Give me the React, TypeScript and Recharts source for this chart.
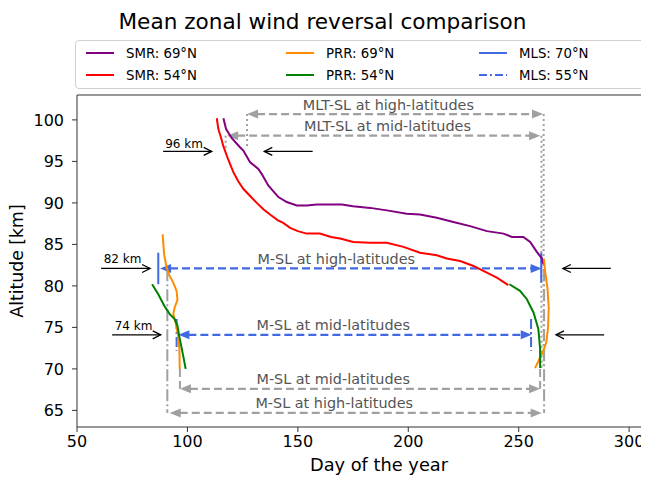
import React from 'react';
import { LineChart, Line, XAxis, YAxis, ReferenceLine, ReferenceDot } from 'recharts';

type Pt = { day: number; alt: number };
const pts = (rows: number[][]): Pt[] => rows.map(([day, alt]) => ({ day, alt }));

// curves: [day of year, altitude km]
const smr69 = pts([
  [116.3, 100.2], [117.5, 98.9], [120.1, 97.8], [123.8, 96.7], [125.3, 96.3], [128.4, 94.9],
  [132.1, 94.1], [133.6, 93.5], [136.6, 92.1], [141.2, 90.7], [145, 90.1], [149.5, 89.7],
  [154, 89.7], [158.6, 89.8], [164.6, 89.8], [170, 89.8], [175, 89.6], [182.7, 89.4],
  [190.3, 89.1], [199.3, 88.7], [205.3, 88.6], [212.9, 88.2], [220.4, 87.7], [228, 87.2],
  [235.6, 86.6], [243.1, 86.3], [246.9, 85.9], [252.1, 85.9], [255.2, 85.3], [258.2, 84.1],
  [260.5, 83.3], [261.2, 82.6],
]);
const smr54 = pts([
  [113.3, 100.2], [114, 98.9], [115.3, 97.8], [116.3, 96.8], [118.5, 95.2], [120.8, 93.7],
  [123, 92.6], [125.3, 91.7], [128.5, 90.8], [131.4, 90], [134.5, 89.2], [137.4, 88.6],
  [141, 87.9], [143.4, 87.6], [146.5, 87], [150, 86.6], [154, 86.3], [160, 86.3],
  [165, 85.9], [169.1, 85.7], [175.1, 85.3], [182.7, 85.2], [190.3, 85.2], [197.8, 84.7],
  [205.3, 84], [212.9, 83.7], [217.4, 83.3], [223.5, 83], [229.5, 82.4], [234, 81.8],
  [240.1, 81], [245.3, 80.1],
]);
const prr69Spring = pts([
  [88.8, 86.2], [89.1, 85], [89.5, 83.7], [90.6, 82.2], [91.8, 81.3], [93.6, 80.4],
  [95.1, 79.4], [95.5, 78.3], [94.2, 77.4], [93.6, 76.6], [94.8, 75.4], [95.9, 73.8],
  [96.4, 72.2], [96.5, 70],
]);
const prr69Autumn = pts([
  [261.4, 83.3], [262, 81.7], [263, 79.8], [263.6, 77.4], [263.3, 75], [262.5, 73.2],
  [261.2, 72.2], [259.4, 71.2], [257.4, 70.1],
]);
const prr54Spring = pts([
  [84, 80.2], [86.8, 79], [89.5, 77.6], [92, 76.6], [94.2, 76], [95.5, 75.2],
  [96.4, 73.8], [97.4, 72.5], [98.5, 71], [99.2, 70],
]);
const prr54Autumn = pts([
  [245.8, 80.2], [250.6, 79.4], [253.7, 78.4], [256.7, 76.8], [258.9, 74.8], [259.7, 72.4],
  [259.7, 70.1],
]);

const xTicks = [50, 100, 150, 200, 250, 300];
const yTicks = [65, 70, 75, 80, 85, 90, 95, 100];

// annotation arrows: [x1, y1, x2, y2] in data units
const greyArrows = [
  [127, 100.7, 261, 100.7],
  [118, 98.1, 259.7, 98.1],
  [96.6, 67.6, 259.7, 67.6],
  [92, 64.7, 260.4, 64.7],
];
const blueArrows = [
  [87.6, 82.1, 260.4, 82.1],
  [95.9, 74.1, 255.9, 74.1],
];
const blackArrows = [
  [89, 96.2, 111, 96.2],
  [156.7, 96.2, 134.8, 96.2],
  [60.9, 82.1, 83.1, 82.1],
  [291.7, 82.1, 270, 82.1],
  [65.9, 74.1, 87.9, 74.1],
  [288.7, 74.1, 266.9, 74.1],
];
const greyDotted = [
  [127, 100.7, 96.8],
  [117.3, 98.1, 96.6],
  [261.3, 100.7, 70],
  [260.3, 98.1, 70],
];
const greyDashDot = [
  [90.9, 82, 64.7],
  [261.5, 82, 64.7],
];
const greyDashed = [
  [96.6, 70, 67.6],
  [259.7, 70, 67.6],
];
const blueBars = [
  [86.8, 84, 80.2],
  [260.2, 84, 80.4],
];
const blueDashDotBars = [
  [95.1, 76, 72.2],
  [255.6, 76, 72.2],
];

const greyLabels: [number, number, string][] = [
  [191, 101.8, 'MLT-SL at high-latitudes'],
  [190.6, 99.3, 'MLT-SL at mid-latitudes'],
  [167.4, 83.3, 'M-SL at high-latitudes'],
  [166, 75.3, 'M-SL at mid-latitudes'],
  [166, 68.8, 'M-SL at mid-latitudes'],
  [166.5, 65.9, 'M-SL at high-latitudes'],
];
const kmLabels: [number, number, string][] = [
  [98.5, 97.1, '96 km'],
  [70.6, 83.2, '82 km'],
  [75.6, 75.2, '74 km'],
];

const legendItems = [
  { name: 'SMR: 69°N', color: '#800080', dash: '', x: 72 },
  { name: 'SMR: 54°N', color: '#ff0000', dash: '', x: 72 },
  { name: 'PRR: 69°N', color: '#ff8c00', dash: '', x: 272 },
  { name: 'PRR: 54°N', color: '#008000', dash: '', x: 272 },
  { name: 'MLS: 70°N', color: '#4169e1', dash: '', x: 465 },
  { name: 'MLS: 55°N', color: '#4169e1', dash: '8 3 2 3', x: 465 },
];

const GREY = '#a0a0a0';
const BLUE = '#4169e1';
const FONT = '"DejaVu Sans", sans-serif';

function arrowShape(kind: 'filled' | 'open', both: boolean) {
  return (p: any) => {
    const { x1, y1, x2, y2, stroke, strokeWidth, strokeDasharray } = p;
    const len = Math.hypot(x2 - x1, y2 - y1) || 1;
    const ux = (x2 - x1) / len;
    const uy = (y2 - y1) / len;
    const L = kind === 'filled' ? 11 : 8;
    const W = kind === 'filled' ? 4.5 : 4;
    const head = (tx: number, ty: number, dx: number, dy: number) => {
      const bx = tx - dx * L;
      const by = ty - dy * L;
      const a = `${bx - dy * W},${by + dx * W}`;
      const b = `${bx + dy * W},${by - dx * W}`;
      return kind === 'filled' ? (
        <polygon points={`${a} ${tx},${ty} ${b}`} fill={stroke} stroke="none" />
      ) : (
        <polyline points={`${a} ${tx},${ty} ${b}`} fill="none" stroke={stroke} strokeWidth={1.3} />
      );
    };
    const sx = both && kind === 'filled' ? x1 + ux * (L - 1) : x1;
    const sy = both && kind === 'filled' ? y1 + uy * (L - 1) : y1;
    const ex = kind === 'filled' ? x2 - ux * (L - 1) : x2;
    const ey = kind === 'filled' ? y2 - uy * (L - 1) : y2;
    return (
      <g>
        <line x1={sx} y1={sy} x2={ex} y2={ey} stroke={stroke} strokeWidth={strokeWidth} strokeDasharray={strokeDasharray} />
        {head(x2, y2, ux, uy)}
        {both && head(x1, y1, -ux, -uy)}
      </g>
    );
  };
}

const textShape = (label: string, size: number, color: string) => (p: any) => (
  <text x={p.cx} y={p.cy} textAnchor="middle" dominantBaseline="central" fontSize={size} fill={color} fontFamily={FONT}>
    {label}
  </text>
);

function vlines(rows: number[][], color: string, dash: string, width: number, prefix: string) {
  return rows.map(([x, ya, yb], i) => (
    <ReferenceLine
      key={prefix + i}
      segment={[{ x, y: ya }, { x, y: yb }]}
      stroke={color}
      strokeWidth={width}
      strokeDasharray={dash}
    />
  ));
}

export default function App() {
  const curve = (data: Pt[], color: string, key: string) => (
    <Line
      key={key}
      data={data}
      dataKey="alt"
      stroke={color}
      strokeWidth={2}
      dot={false}
      isAnimationActive={false}
      type="linear"
    />
  );

  return (
    <div style={{ position: 'relative', width: 641, height: 471, overflow: 'hidden', fontFamily: FONT }}>
      <div style={{ position: 'absolute', left: 0, width: 629, top: 0, textAlign: 'center', fontSize: 21.6, lineHeight: '27px', color: '#000' }}>
        Mean zonal wind reversal comparison
      </div>
      <div
        style={{
          position: 'absolute', left: 67, top: 32, width: 640, height: 47,
          border: '1px solid #d0d0d0', borderRadius: 4, background: '#fff', zIndex: 2,
        }}
      >
        {legendItems.map((it, i) => (
          <div key={it.name} style={{ position: 'absolute', left: it.x - 67 + 5, top: i % 2 === 0 ? 2 : 24, height: 20, display: 'flex', alignItems: 'center' }}>
            <svg width={30} height={6}>
              <line x1={0} y1={3} x2={28} y2={3} stroke={it.color} strokeWidth={2} strokeDasharray={it.dash} />
            </svg>
            <span style={{ marginLeft: 10, fontSize: 13.3, color: '#000' }}>{it.name}</span>
          </div>
        ))}
      </div>
      <div style={{ position: 'absolute', left: 285, top: 446, width: 172, textAlign: 'center', fontSize: 17.8, color: '#000' }}>
        Day of the year
      </div>
      <div
        style={{
          position: 'absolute', left: 9, top: 253, width: 0, height: 0,
        }}
      >
        <div style={{ position: 'absolute', transform: 'translate(-50%, -50%) rotate(-90deg)', whiteSpace: 'nowrap', fontSize: 17.3, color: '#000' }}>
          Altitude [km]
        </div>
      </div>
      <LineChart width={641} height={471} margin={{ top: 87, right: 0, bottom: 22, left: 19 }}>
        <XAxis
          dataKey="day"
          type="number"
          domain={[50, 309]}
          ticks={xTicks}
          allowDataOverflow
          height={30}
          tickSize={5}
          tickMargin={4}
          tick={{ fontSize: 16, fill: '#000', fontFamily: FONT }}
          stroke="#333"
        />
        <YAxis
          type="number"
          domain={[63, 103]}
          ticks={yTicks}
          allowDataOverflow
          width={50}
          tickSize={5}
          tickMargin={8}
          tick={{ fontSize: 16, fill: '#000', fontFamily: FONT }}
          stroke="#333"
        />
        <ReferenceLine y={103} stroke="#333" strokeWidth={1.2} />
        {vlines(greyDotted, GREY, '2 3', 2, 'dot')}
        {vlines(greyDashDot, GREY, '12 3 2 3', 2, 'dd')}
        {vlines(greyDashed, GREY, '8 4', 2, 'ds')}
        {vlines(blueBars, BLUE, '', 2, 'bb')}
        {vlines(blueDashDotBars, BLUE, '10 3 2 3', 2, 'bdd')}
        {greyArrows.map(([a, b, c, d], i) => (
          <ReferenceLine
            key={'ga' + i}
            segment={[{ x: a, y: b }, { x: c, y: d }]}
            stroke={GREY}
            strokeWidth={2.2}
            strokeDasharray="8 4"
            shape={arrowShape('filled', true)}
          />
        ))}
        {blueArrows.map(([a, b, c, d], i) => (
          <ReferenceLine
            key={'ba' + i}
            segment={[{ x: a, y: b }, { x: c, y: d }]}
            stroke={BLUE}
            strokeWidth={2.2}
            strokeDasharray="8 4"
            shape={arrowShape('filled', true)}
          />
        ))}
        {blackArrows.map(([a, b, c, d], i) => (
          <ReferenceLine
            key={'ka' + i}
            segment={[{ x: a, y: b }, { x: c, y: d }]}
            stroke="#000"
            strokeWidth={1.3}
            shape={arrowShape('open', false)}
          />
        ))}
        {greyLabels.map(([x, y, t], i) => (
          <ReferenceDot key={'gl' + i} x={x} y={y} r={0} shape={textShape(t, 14.4, '#555')} />
        ))}
        {kmLabels.map(([x, y, t], i) => (
          <ReferenceDot key={'kl' + i} x={x} y={y} r={0} shape={textShape(t, 12, '#000')} />
        ))}
        {curve(smr69, '#800080', 'smr69')}
        {curve(smr54, '#ff0000', 'smr54')}
        {curve(prr69Spring, '#ff8c00', 'prr69a')}
        {curve(prr69Autumn, '#ff8c00', 'prr69b')}
        {curve(prr54Spring, '#008000', 'prr54a')}
        {curve(prr54Autumn, '#008000', 'prr54b')}
      </LineChart>
    </div>
  );
}
